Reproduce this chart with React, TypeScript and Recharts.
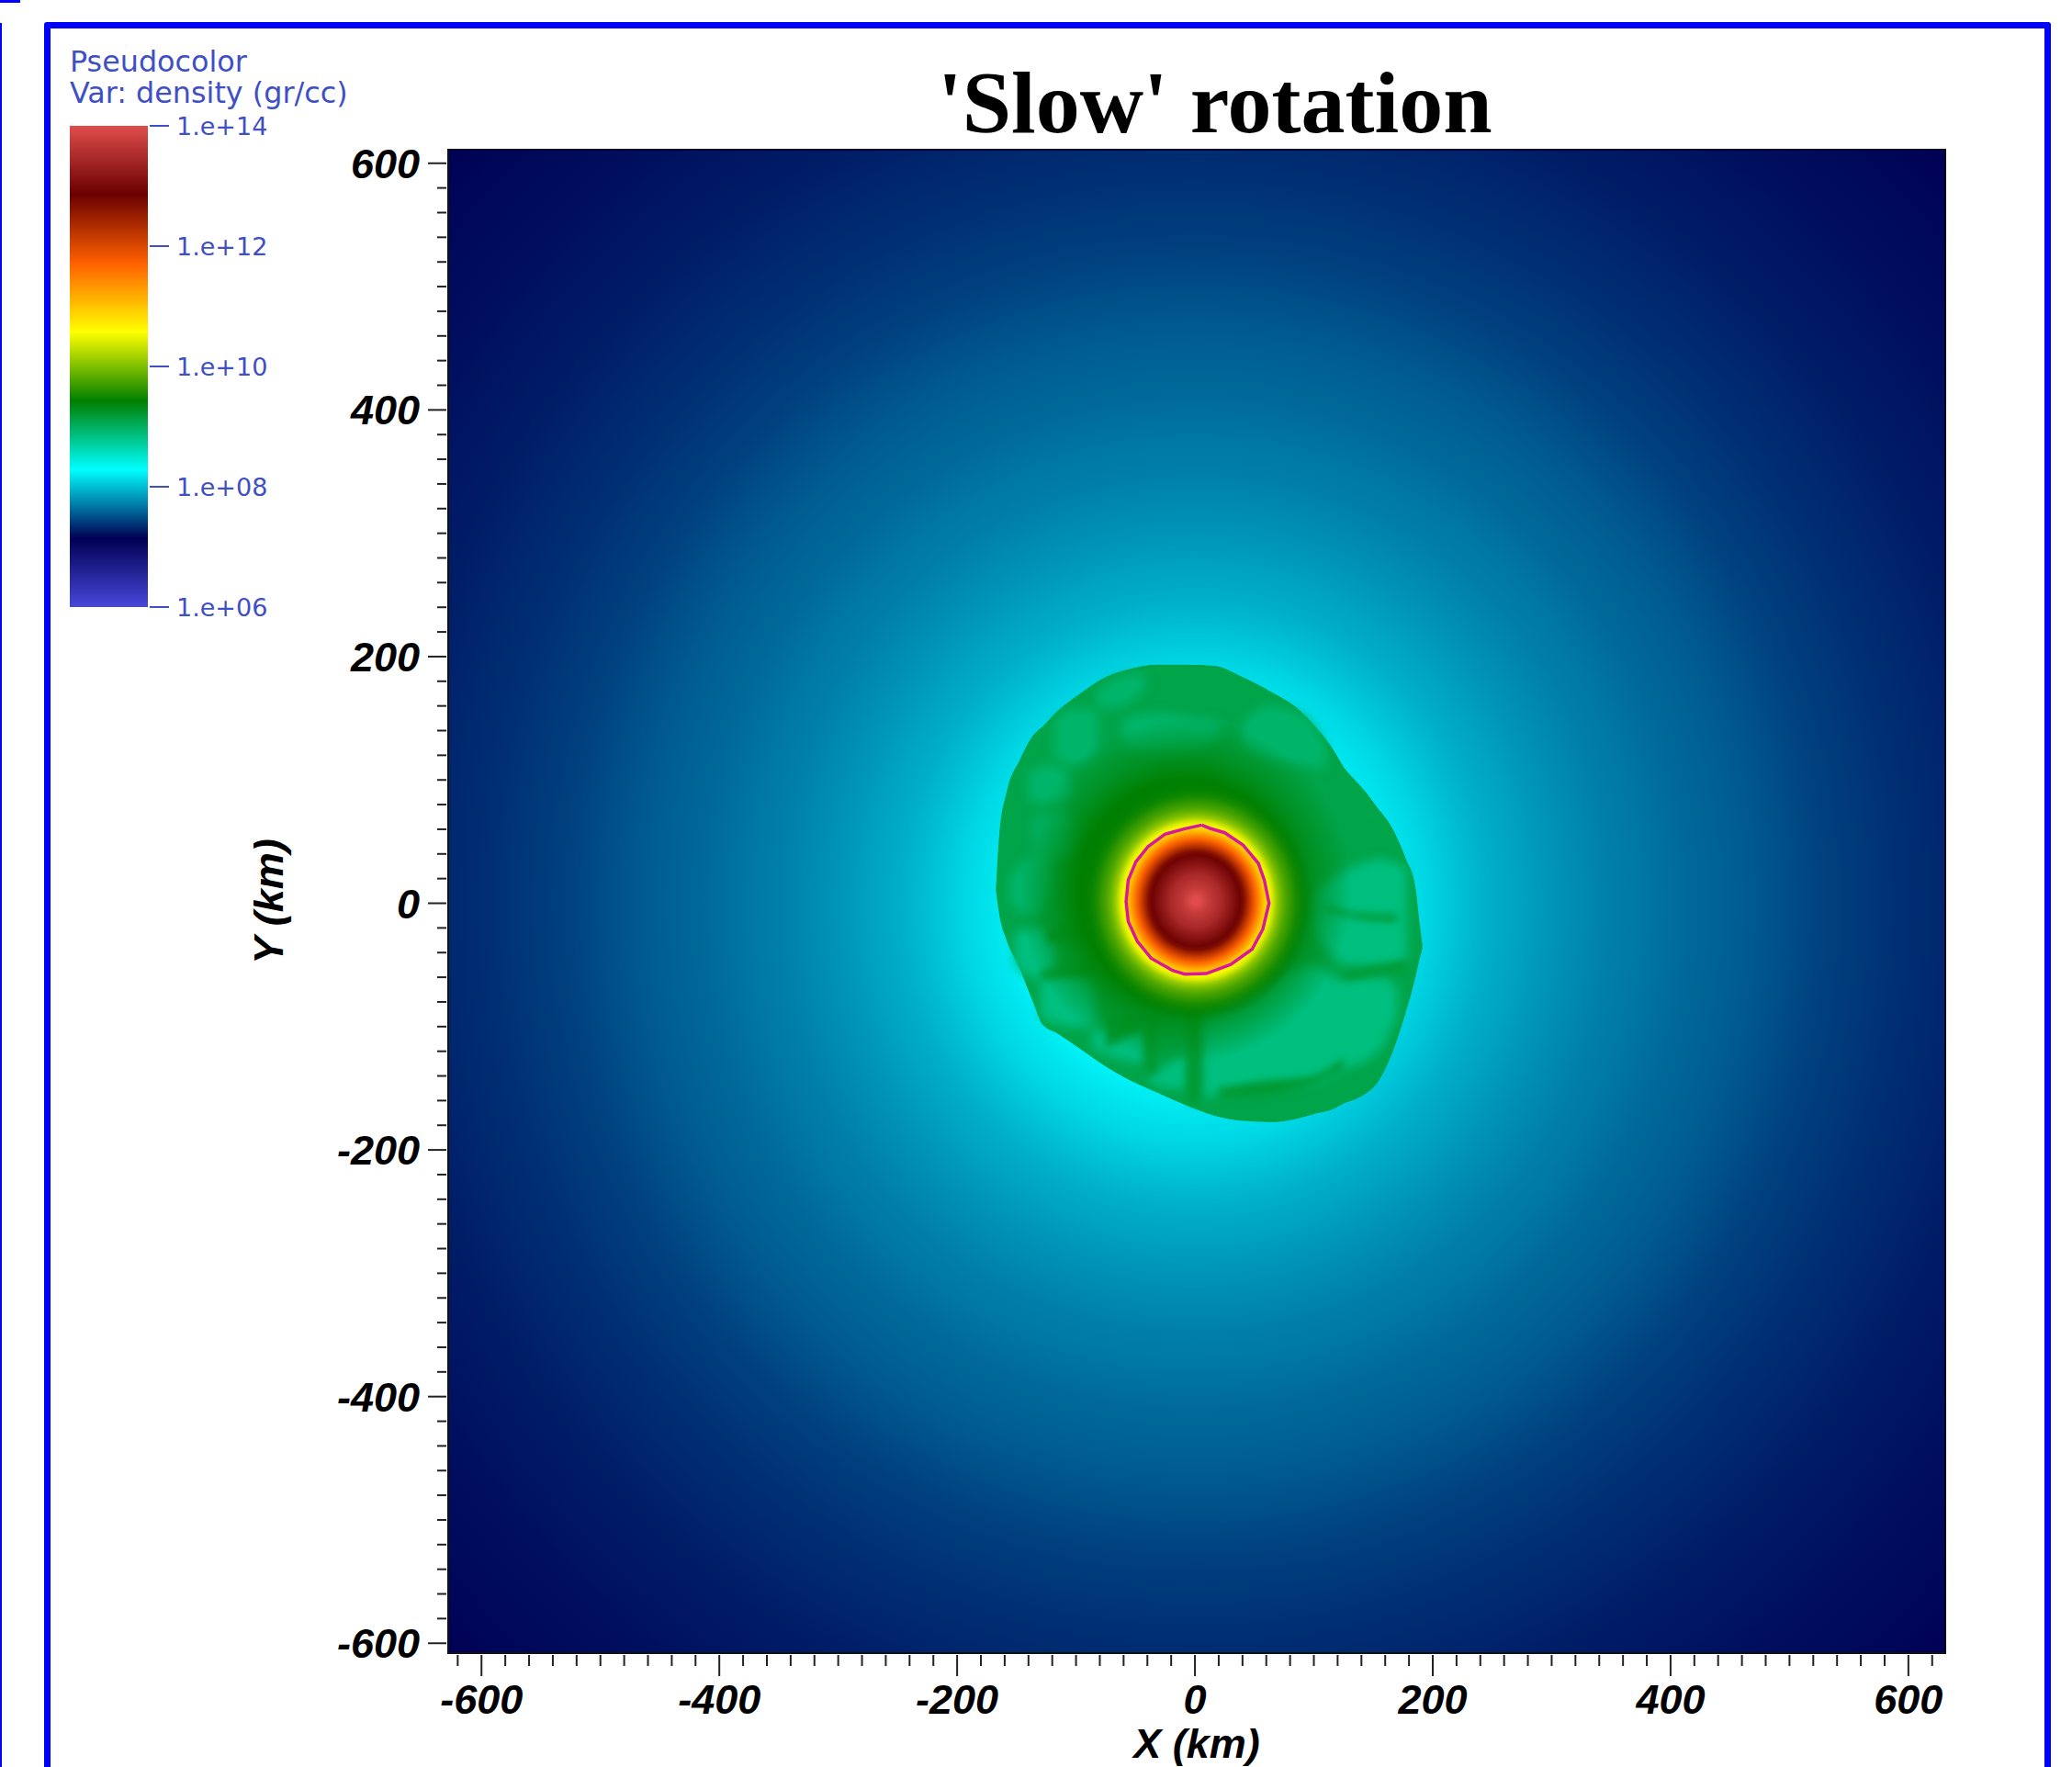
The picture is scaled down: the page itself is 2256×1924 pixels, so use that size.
import {
  Area,
  Bar,
  BarChart,
  ComposedChart,
  Line,
  ReferenceArea,
  Scatter,
  XAxis,
  YAxis,
  ZAxis,
} from "recharts";

// colour table of the plot: log10(density) from 6 to 14, evenly spaced stops
const colorMap = ["#4747db", "#000054", "#00ffff", "#007f00", "#ffff00", "#ff6000", "#6b0000", "#e04c4c"];
const colorbarTicks = [6, 8, 10, 12, 14];
const colorbarData = [{ name: "density", span: [6, 14] }];

const majorTicks = [-600, -400, -200, 0, 200, 400, 600];
const xMinorTicks = Array.from({ length: 63 }, (_, i) => -620 + i * 20);
const yMinorTicks = Array.from({ length: 61 }, (_, i) => -600 + i * 20);

// density, going inward (km, log10 gr/cc)
const envelopeRadius = [880, 840, 800, 760, 720, 680, 650, 620, 590, 560, 530, 500, 470, 440, 410, 380, 350, 320, 295, 270, 250, 230, 210, 190, 170, 150, 130];
const envelopeDensity = [7.14, 7.17, 7.19, 7.21, 7.24, 7.27, 7.3, 7.33, 7.36, 7.4, 7.43, 7.49, 7.54, 7.58, 7.62, 7.67, 7.71, 7.77, 7.82, 7.88, 7.92, 7.98, 8.05, 8.12, 8.17, 8.24, 8.28];

const haloRadius = [140, 125, 112, 100, 90];
const haloDensity = [9.38, 9.38, 9.38, 9.4, 9.42];
const haloOpacity = [0, 0.3, 0.55, 0.8, 1];

const coreRadius = [98, 92, 85, 80, 76, 72, 68, 64, 61, 58, 55, 52, 49, 46, 43, 40, 37, 34, 30, 26, 22, 18, 14, 10, 6, 3];
const coreDensity = [9.42, 9.45, 9.55, 9.65, 9.75, 9.9, 10.1, 10.4, 10.6, 10.9, 11.2, 11.5, 11.8, 12.1, 12.4, 12.7, 12.9, 13, 13.15, 13.3, 13.45, 13.55, 13.65, 13.75, 13.9, 14];
const coreOpacity = [0, 0.35, 0.75];

// shock front outline: x, then upper and lower edge
const shockX = [-167, -164, -158, -147, -135, -128, -116, -96, -75, -57, -32, -6, 17, 40, 66, 87, 102, 115, 125, 136, 145, 151, 166, 177, 185, 188, 191];
const shockTop = [11, 57, 90, 116, 137, 143, 155, 170, 183, 189, 193, 193, 192, 183, 170, 157, 142, 126, 110, 98, 88, 80, 60, 36, 13, -12, -35];
const shockBottom = [11, -10, -30, -53, -82, -98, -105, -118, -132, -142, -153, -164, -172, -176, -177, -174, -170, -167, -162, -158, -153, -148, -120, -88, -60, -47, -36];

// low density plumes behind the shock: [x, lower, upper]
const upperPlumes = [
  [[-82, 158, 172], [-62, 160, 184], [-42, 174, 186]],
  [[40, 128, 146], [61, 118, 160], [92, 112, 152], [110, 108, 128]],
  [[-118, 118, 148], [-100, 112, 158], [-82, 122, 156]],
  [[-140, 84, 106], [-120, 80, 112], [-104, 84, 100]],
  [[-156, 0, 22], [-135, -10, 40], [-120, 16, 46]],
  [[-136, 40, 68], [-112, 36, 76], [-100, 44, 64]],
  [[-60, 130, 150], [-30, 122, 154], [0, 125, 150], [20, 135, 148]],
];
const lowerPlumes = [
  [[-152, -50, -24], [-130, -62, -20], [-118, -54, -32]],
  [[-130, -92, -60], [-105, -100, -56], [-84, -100, -66]],
  [[-86, -118, -102], [-65, -126, -100], [-42, -130, -108]],
  [[-38, -146, -138], [-20, -150, -130], [-7, -150, -122]],
  [[7, -158, -92], [33, -152, -70], [58, -146, -64], [97, -146, -50], [123, -136, -62], [156, -118, -60], [170, -90, -68]],
  [[100, -24, 10], [130, -50, 28], [156, -50, 36], [178, -48, 28]],
];
const veins = [
  [[20, -158, -150], [60, -155, -145], [100, -146, -140], [125, -134, -125]],
  [[110, -6, -2], [140, -13, -8], [170, -15, -9]],
  [[125, -62, -56], [150, -58, -52], [178, -54, -46]],
  [[-6, -162, -85], [4, -162, -85]],
  [[-42, -138, -90], [-32, -138, -90]],
  [[-75, -118, -92], [-45, -102, -90]],
  [[-125, -32, -22], [-90, -30, -10]],
  [[-130, -62, -55], [-85, -58, -46]],
];

// neutrino sphere contour
const contourX = [5.7, -8.5, -25.2, -39.4, -49.7, -56.1, -57.9, -56.1, -48.4, -36.8, -18.8, -8.5, 9.5, 30.1, 48.1, 57.1, 62.3, 58.4, 53.3, 40.4, 25, 12.1, 5.7];
const contourY = [63.4, 60.4, 56, 46, 33.6, 18.7, 1.3, -14.8, -31, -44.6, -54.5, -57.5, -57, -49.6, -37.2, -21, 0.1, 18.7, 32.4, 47.3, 57.2, 60.9, 63.4];

const PLOT_LEFT = 488;
const PLOT_TOP = 163;
const PLOT_WIDTH = 1630;
const PLOT_HEIGHT = 1637;
const X_DOMAIN = [-628, 631];
const Y_DOMAIN = [-608, 611];
const PX_PER_KM = PLOT_WIDTH / (X_DOMAIN[1] - X_DOMAIN[0]);
const Y_STRETCH = PLOT_HEIGHT / (Y_DOMAIN[1] - Y_DOMAIN[0]) / PX_PER_KM;
const Z_MAX = 880 * 880;

const LEGEND_BLUE = "#3f4fc4";
const AXIS_FONT = { fontFamily: "'Liberation Sans'", fontWeight: 700, fontStyle: "italic", fontSize: 45, fill: "#000" };

function hex(c: string) {
  return [1, 3, 5].map((i) => parseInt(c.slice(i, i + 2), 16));
}

function colorOf(logDensity: number) {
  const pos = Math.min(6.999, Math.max(0, ((logDensity - 6) / 8) * 7));
  const i = Math.floor(pos);
  const a = hex(colorMap[i]);
  const b = hex(colorMap[i + 1]);
  const c = a.map((v, k) => Math.round(v + (b[k] - v) * (pos - i)));
  return `rgb(${c[0]},${c[1]},${c[2]})`;
}

const envelope = [{ x: 0, y: 0, z: envelopeRadius[0] ** 2, gradient: "envelopeFill" }];
const halo = [{ x: -8, y: 10, z: haloRadius[0] ** 2, gradient: "haloFill" }];
const core = [{ x: 1, y: 2, z: coreRadius[0] ** 2, gradient: "coreFill" }];
const shock = shockX.map((x, i) => ({ x, band: [shockBottom[i], shockTop[i]] }));
const contour = contourX.map((x, i) => ({ x, y: contourY[i] }));
const toBand = (rows: number[][]) => rows.map(([x, lo, hi]) => ({ x, band: [lo, hi] }));

function RadialFill({ id, radius, density, opacity }: { id: string; radius: number[]; density: number[]; opacity?: number[] }) {
  // radii run inward, gradient offsets run outward
  const stops = radius.map((r, i) => ({ offset: (r / radius[0]) * 100, color: colorOf(density[i]), alpha: opacity?.[i] ?? 1 })).reverse();
  return (
    <radialGradient id={id} key={id}>
      {stops.map((s) => (
        <stop key={s.offset} offset={`${s.offset}%`} stopColor={s.color} stopOpacity={s.alpha} />
      ))}
    </radialGradient>
  );
}

function ShellShape(props: any) {
  const { cx, cy, width, payload } = props;
  return (
    <ellipse
      cx={cx}
      cy={cy}
      rx={width / 2}
      ry={(width / 2) * Y_STRETCH}
      fill={`url(#${payload.gradient})`}
      clipPath="url(#plotClip)"
    />
  );
}

function XTick({ x, y, payload }: any) {
  const major = majorTicks.includes(payload.value);
  return (
    <g>
      <line x1={x} x2={x} y1={y} y2={y + (major ? 23 : 12)} stroke="#222" strokeWidth={2} />
      {major && (
        <text x={x} y={y + 64} textAnchor="middle" {...AXIS_FONT}>
          {payload.value}
        </text>
      )}
    </g>
  );
}

function YTick({ x, y, payload }: any) {
  const major = majorTicks.includes(payload.value);
  return (
    <g>
      <line x1={x} x2={x - (major ? 20 : 10)} y1={y} y2={y} stroke="#222" strokeWidth={2} />
      {major && (
        <text x={x - 29} y={y + 16} textAnchor="end" {...AXIS_FONT}>
          {payload.value}
        </text>
      )}
    </g>
  );
}

function ColorbarTick({ x, y, payload }: any) {
  return (
    <g>
      <line x1={x} x2={x + 21} y1={y} y2={y} stroke={LEGEND_BLUE} strokeWidth={2} />
      <text x={x + 29} y={y + 10} fontFamily="'DejaVu Sans'" fontSize={27} fill={LEGEND_BLUE}>
        {`1.e+${String(payload.value).padStart(2, "0")}`}
      </text>
    </g>
  );
}

function bandArea(rows: number[][], key: string, logDensity: number, filter: string, zIndex: number) {
  return (
    <Area
      key={key}
      data={toBand(rows)}
      dataKey="band"
      type="monotone"
      fill={colorOf(logDensity)}
      fillOpacity={1}
      stroke="none"
      filter={filter}
      dot={false}
      activeDot={false}
      isAnimationActive={false}
      zIndex={zIndex}
    />
  );
}

export default function App() {
  return (
    <div style={{ position: "absolute", left: 0, top: 0, width: 2256, height: 1924, overflow: "hidden", background: "#fff" }}>
      <div style={{ position: "absolute", left: 0, top: 0, width: 22, height: 3, background: "#0000ff" }} />
      <div style={{ position: "absolute", left: 0, top: 25, width: 2, height: 1899, background: "#0000ff" }} />
      <div
        style={{
          position: "absolute",
          left: 48,
          top: 24,
          width: 2185,
          height: 2000,
          boxSizing: "border-box",
          border: "7px solid #0000ff",
          borderRadius: 3,
        }}
      />

      <ComposedChart
        width={2256}
        height={1924}
        margin={{ top: PLOT_TOP, right: 138, bottom: 0, left: 0 }}
        style={{ position: "absolute", left: 0, top: 0 }}
      >
        <defs>
          <clipPath id="plotClip">
            <rect x={PLOT_LEFT} y={PLOT_TOP} width={PLOT_WIDTH} height={PLOT_HEIGHT} />
          </clipPath>
          <filter id="soft" x="-40%" y="-40%" width="180%" height="180%">
            <feGaussianBlur stdDeviation="6" />
          </filter>
          <filter id="softVein" x="-60%" y="-60%" width="220%" height="220%">
            <feGaussianBlur stdDeviation="4" />
          </filter>
          {RadialFill({ id: "envelopeFill", radius: envelopeRadius, density: envelopeDensity })}
          {RadialFill({ id: "haloFill", radius: haloRadius, density: haloDensity, opacity: haloOpacity })}
          {RadialFill({ id: "coreFill", radius: coreRadius, density: coreDensity, opacity: coreOpacity })}
        </defs>
        <XAxis
          type="number"
          dataKey="x"
          domain={X_DOMAIN}
          ticks={xMinorTicks}
          interval={0}
          allowDataOverflow
          height={124}
          tickSize={0}
          tickLine={false}
          tick={<XTick />}
          stroke="#111"
          strokeWidth={2}
          label={{ value: "X (km)", position: "insideBottom", offset: 10, ...AXIS_FONT }}
        />
        <YAxis
          type="number"
          dataKey="y"
          domain={Y_DOMAIN}
          ticks={yMinorTicks}
          interval={0}
          allowDataOverflow
          width={PLOT_LEFT}
          tickSize={0}
          tickLine={false}
          tick={<YTick />}
          stroke="#111"
          strokeWidth={2}
          label={{ value: "Y (km)", position: "insideLeft", angle: -90, offset: 292, textAnchor: "middle", ...AXIS_FONT }}
        />
        <ZAxis type="number" dataKey="z" domain={[0, Z_MAX]} range={[0, Math.PI * PX_PER_KM * PX_PER_KM * Z_MAX]} scale="linear" />

        <ReferenceArea x1={X_DOMAIN[0]} x2={X_DOMAIN[1]} y1={Y_DOMAIN[0]} y2={Y_DOMAIN[1]} fill={colorMap[1]} fillOpacity={1} zIndex={1} />
        <Scatter data={envelope} shape={ShellShape} isAnimationActive={false} zIndex={2} />
        <Area
          data={shock}
          dataKey="band"
          type="monotone"
          fill={colorOf(9.1)}
          fillOpacity={1}
          stroke={colorOf(9.15)}
          strokeWidth={1}
          dot={false}
          activeDot={false}
          isAnimationActive={false}
          zIndex={3}
        />
        {upperPlumes.map((rows, i) => bandArea(rows, `upper${i}`, 8.95, "url(#soft)", 4))}
        {lowerPlumes.map((rows, i) => bandArea(rows, `lower${i}`, 8.86, "url(#soft)", 4))}
        {veins.map((rows, i) => bandArea(rows, `vein${i}`, 9.2, "url(#softVein)", 5))}
        <Scatter data={halo} shape={ShellShape} isAnimationActive={false} zIndex={6} />
        <Scatter data={core} shape={ShellShape} isAnimationActive={false} zIndex={7} />
        <Line
          data={contour}
          dataKey="y"
          type="linear"
          stroke="#d9189c"
          strokeWidth={3.5}
          dot={false}
          activeDot={false}
          isAnimationActive={false}
          zIndex={8}
        />
        <ReferenceArea x1={X_DOMAIN[0]} x2={X_DOMAIN[1]} y1={Y_DOMAIN[0]} y2={Y_DOMAIN[1]} fill="none" stroke="#000030" strokeWidth={2} zIndex={9} />
      </ComposedChart>

      <BarChart
        width={300}
        height={564}
        data={colorbarData}
        barCategoryGap={0}
        margin={{ top: 20, right: 0, bottom: 20, left: 0 }}
        style={{ position: "absolute", left: 76, top: 117 }}
      >
        <defs>
          <linearGradient id="colorbarFill" x1="0" y1="1" x2="0" y2="0">
            {colorMap.map((c, i) => (
              <stop key={c} offset={`${(i / 7) * 100}%`} stopColor={c} />
            ))}
          </linearGradient>
        </defs>
        <XAxis dataKey="name" hide />
        <YAxis
          orientation="right"
          type="number"
          domain={[6, 14]}
          ticks={colorbarTicks}
          interval={0}
          width={215}
          tickSize={0}
          tickLine={false}
          axisLine={false}
          tick={<ColorbarTick />}
        />
        <Bar dataKey="span" fill="url(#colorbarFill)" isAnimationActive={false} />
      </BarChart>

      <div style={{ position: "absolute", left: 76, top: 50, fontFamily: "'DejaVu Sans'", fontSize: 31.8, lineHeight: "34px", color: LEGEND_BLUE, whiteSpace: "nowrap" }}>
        Pseudocolor
        <br />
        Var: density (gr/cc)
      </div>
      <div
        style={{
          position: "absolute",
          left: 1021,
          top: 57,
          fontFamily: "'Liberation Serif'",
          fontWeight: 700,
          fontSize: 96,
          lineHeight: "110px",
          color: "#000",
          whiteSpace: "nowrap",
        }}
      >
        'Slow' rotation
      </div>
    </div>
  );
}
